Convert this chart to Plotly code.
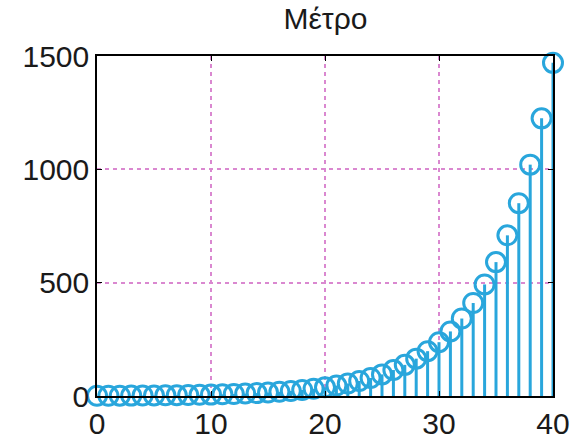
import plotly.graph_objects as go

n = list(range(41))
magnitude = [1.0, 1.2, 1.44, 1.73, 2.07, 2.49, 2.99, 3.58, 4.3, 5.16,
             6.19, 7.43, 8.92, 10.7, 12.8, 15.4, 18.5, 22.2, 26.6, 31.9,
             38.3, 46.0, 55.2, 66.2, 79.5, 95.4, 114.5, 137.4, 164.8, 197.8,
             237.4, 284.9, 341.8, 410.2, 492.2, 590.7, 708.8, 850.6, 1020.7, 1224.9,
             1469.8]
title_text = "Μέτρο"
x_ticks = [0, 10, 20, 30, 40]
y_ticks = [0, 500, 1000, 1500]

color = "#29a6dc"

stem_x, stem_y = [], []
for xi, yi in zip(n, magnitude):
    stem_x += [xi, xi, None]
    stem_y += [0, yi, None]

fig = go.Figure()
fig.add_trace(go.Scatter(x=stem_x, y=stem_y, mode="lines",
                         line=dict(color=color, width=3), cliponaxis=False,
                         hoverinfo="skip", showlegend=False))
fig.add_trace(go.Scatter(x=n, y=magnitude, mode="markers",
                         marker=dict(symbol="circle-open", size=19, color=color,
                                     line=dict(width=3, color=color)),
                         cliponaxis=False, showlegend=False))

axis_common = dict(showline=True, linecolor="black", linewidth=1.5, mirror="ticks",
                   ticks="inside", ticklen=5, tickcolor="black",
                   showgrid=True, gridcolor="#da88d0", griddash="4px,4px", gridwidth=1.6,
                   zeroline=False, automargin=False,
                   tickfont=dict(family="Liberation Sans, Arial", size=30, color="#1a1a1a"))

fig.update_xaxes(range=[0, 40], tickvals=x_ticks, **axis_common)
fig.update_yaxes(range=[0, 1500], tickvals=y_ticks, **axis_common)

fig.update_layout(
    width=576, height=440,
    margin=dict(l=97, r=23, t=56, b=44),
    plot_bgcolor="white", paper_bgcolor="white",
    title=dict(text=title_text, x=0.565, xanchor="center", y=0.958, yanchor="middle",
               font=dict(family="Liberation Sans, Arial", size=30, color="#1a1a1a"),
               automargin=False),
)

fig.write_html("out.html")
